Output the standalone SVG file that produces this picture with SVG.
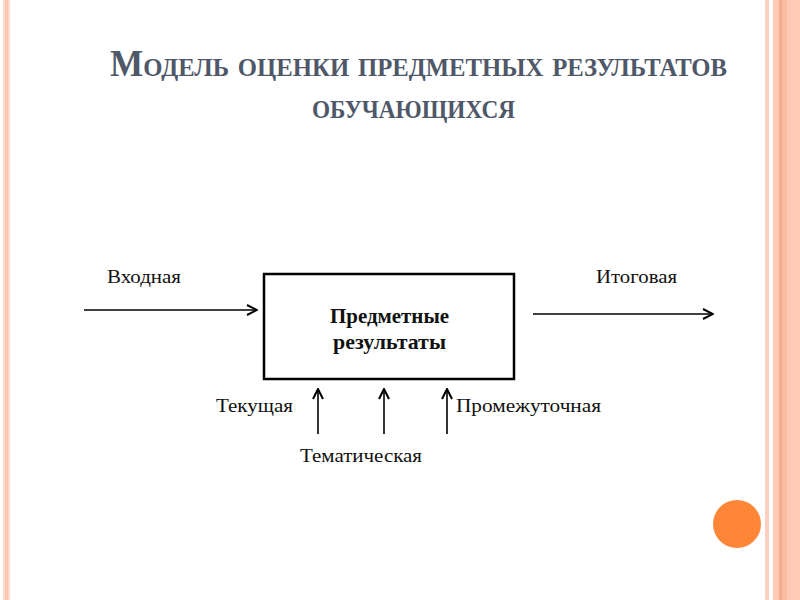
<svg xmlns="http://www.w3.org/2000/svg" width="800" height="600" viewBox="0 0 800 600">
<defs>
<style>
.title{font-family:"Liberation Serif","Times New Roman",serif;font-weight:bold;fill:#4F5869;font-variant:small-caps}
.lbl{font-family:"Liberation Serif","Times New Roman",serif;font-size:18px;fill:#111}
.box{font-family:"Liberation Serif","Times New Roman",serif;font-size:21px;font-weight:bold;fill:#111}
.conn{stroke:#000;stroke-width:1.6;fill:none}
</style>
<marker id="ah" viewBox="0 0 12 12" refX="11" refY="6" markerWidth="12" markerHeight="12" markerUnits="userSpaceOnUse" orient="auto">
<path d="M1,1 L11,6 L1,11" fill="none" stroke="#000" stroke-width="2"/>
</marker>
</defs>
<rect width="800" height="600" fill="#fff"/>
<g id="frame">
<rect x="3" y="0" width="7" height="600" fill="#FDDCCE"/>
<rect x="5" y="0" width="3" height="600" fill="#FBC5B0"/>
<rect x="765" y="0" width="4" height="600" fill="#FCCFBE"/>
<rect x="773" y="0" width="27" height="600" fill="#FEC9B5"/>
<rect x="779" y="0" width="3" height="600" fill="#F4AC8C"/>
<rect x="782" y="0" width="5" height="600" fill="#F9BBA1"/>
<circle cx="737" cy="524" r="24" fill="#FD8637"/>
</g>
<g id="title">
<text class="title" x="110" y="76" font-size="37" textLength="617" lengthAdjust="spacingAndGlyphs">Модель оценки предметных результатов</text>
<text class="title" x="312" y="118" font-size="37" textLength="203" lengthAdjust="spacingAndGlyphs">обучающихся</text>
</g>
<g id="node-results">
<rect x="264" y="274" width="250" height="105" fill="#fff" stroke="#000" stroke-width="2.5"/>
<text class="box" x="330" y="323" textLength="119" lengthAdjust="spacingAndGlyphs">Предметные</text>
<text class="box" x="333" y="349" textLength="113" lengthAdjust="spacingAndGlyphs">результаты</text>
</g>
<g id="connectors">
<line class="conn" x1="84" y1="310" x2="257" y2="310" marker-end="url(#ah)"/>
<line class="conn" x1="533" y1="314" x2="713" y2="314" stroke-width="2.2" marker-end="url(#ah)"/>
<line class="conn" x1="318" y1="434" x2="318" y2="389" marker-end="url(#ah)"/>
<line class="conn" x1="384" y1="434" x2="384" y2="389" marker-end="url(#ah)"/>
<line class="conn" x1="447" y1="434" x2="447" y2="389" marker-end="url(#ah)"/>
</g>
<g id="labels">
<text class="lbl" x="107" y="283" textLength="74" lengthAdjust="spacingAndGlyphs">Входная</text>
<text class="lbl" x="596" y="283" textLength="81" lengthAdjust="spacingAndGlyphs">Итоговая</text>
<text class="lbl" x="216" y="412" textLength="77" lengthAdjust="spacingAndGlyphs">Текущая</text>
<text class="lbl" x="456" y="412" textLength="145" lengthAdjust="spacingAndGlyphs">Промежуточная</text>
<text class="lbl" x="300" y="462" textLength="122" lengthAdjust="spacingAndGlyphs">Тематическая</text>
</g>
</svg>
